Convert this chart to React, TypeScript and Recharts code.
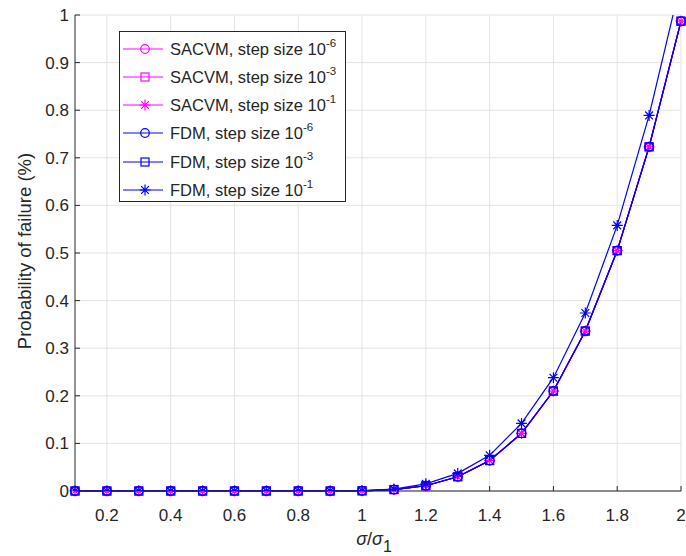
import { LineChart, Line, XAxis, YAxis, CartesianGrid, Legend } from 'recharts'

// sigma / sigma_1
const ratios = [0.1, 0.2, 0.3, 0.4, 0.5, 0.6, 0.7, 0.8, 0.9, 1.0, 1.1, 1.2, 1.3, 1.4, 1.5, 1.6, 1.7, 1.8, 1.9, 2.0]

// probability of failure (%)
const sacvm6 = [0, 0, 0, 0, 0, 0, 0, 0, 0, 0.0004, 0.003, 0.011, 0.03, 0.064, 0.121, 0.21, 0.336, 0.505, 0.723, 0.987]
const sacvm3 = [0, 0, 0, 0, 0, 0, 0, 0, 0, 0.0004, 0.003, 0.011, 0.03, 0.064, 0.121, 0.21, 0.336, 0.505, 0.723, 0.987]
const sacvm1 = [0, 0, 0, 0, 0, 0, 0, 0, 0, 0.0004, 0.003, 0.011, 0.03, 0.064, 0.121, 0.21, 0.336, 0.505, 0.723, 0.987]
const fdm6 = [0, 0, 0, 0, 0, 0, 0, 0, 0, 0.0004, 0.003, 0.011, 0.03, 0.064, 0.121, 0.21, 0.336, 0.505, 0.723, 0.987]
const fdm3 = [0, 0, 0, 0, 0, 0, 0, 0, 0, 0.0004, 0.003, 0.011, 0.03, 0.064, 0.121, 0.21, 0.336, 0.505, 0.723, 0.987]
const fdm1 = [0, 0, 0, 0, 0, 0, 0, 0, 0, 0.0006, 0.004, 0.015, 0.037, 0.075, 0.142, 0.238, 0.374, 0.558, 0.789, 1.07]

const xTicks = [0.2, 0.4, 0.6, 0.8, 1, 1.2, 1.4, 1.6, 1.8, 2]
const yTicks = [0, 0.1, 0.2, 0.3, 0.4, 0.5, 0.6, 0.7, 0.8, 0.9, 1]

const MAGENTA = '#ff00ff'
const BLUE = '#0000ff'
const INK = '#262626'
const FONT = '"Liberation Sans", Arial, Helvetica, sans-serif'

type Shape = 'circle' | 'square' | 'star'

const series: { key: string; label: string; exp: string; color: string; shape: Shape }[] = [
  { key: 'sacvm6', label: 'SACVM, step size 10', exp: '-6', color: MAGENTA, shape: 'circle' },
  { key: 'sacvm3', label: 'SACVM, step size 10', exp: '-3', color: MAGENTA, shape: 'square' },
  { key: 'sacvm1', label: 'SACVM, step size 10', exp: '-1', color: MAGENTA, shape: 'star' },
  { key: 'fdm6', label: 'FDM, step size 10', exp: '-6', color: BLUE, shape: 'circle' },
  { key: 'fdm3', label: 'FDM, step size 10', exp: '-3', color: BLUE, shape: 'square' },
  { key: 'fdm1', label: 'FDM, step size 10', exp: '-1', color: BLUE, shape: 'star' },
]

const chartData = ratios.map((r, i) => ({
  r,
  sacvm6: sacvm6[i],
  sacvm3: sacvm3[i],
  sacvm1: sacvm1[i],
  fdm6: fdm6[i],
  fdm3: fdm3[i],
  fdm1: fdm1[i],
}))

function Marker({ shape, color, x, y }: { shape: Shape; color: string; x: number; y: number }) {
  if (shape === 'circle') {
    return <circle cx={x} cy={y} r={4.3} fill="none" stroke={color} strokeWidth={1.2} />
  }
  if (shape === 'square') {
    return <rect x={x - 4} y={y - 4} width={8} height={8} fill="none" stroke={color} strokeWidth={1.2} />
  }
  const s = 5.5
  const d = s * 0.707
  return (
    <path
      d={`M${x - s},${y}H${x + s}M${x},${y - s}V${y + s}M${x - d},${y - d}L${x + d},${y + d}M${x - d},${y + d}L${x + d},${y - d}`}
      stroke={color}
      strokeWidth={1.2}
      fill="none"
    />
  )
}

const makeDot = (shape: Shape, color: string) => (props: any) => {
  const { cx, cy, index } = props
  if (cx == null || cy == null) return <g key={index} />
  return (
    <g key={index}>
      <Marker shape={shape} color={color} x={cx} y={cy} />
    </g>
  )
}

function LegendBox() {
  const rowY = [18, 46, 74, 102, 131, 159]
  return (
    <svg width={227} height={171} style={{ display: 'block' }}>
      <rect x={0.5} y={0.5} width={226} height={170} fill="#fff" stroke={INK} strokeWidth={1} />
      {series.map((s, i) => (
        <g key={s.key}>
          <line x1={4} x2={44} y1={rowY[i]} y2={rowY[i]} stroke={s.color} strokeWidth={1.2} />
          <Marker shape={s.shape} color={s.color} x={26} y={rowY[i]} />
          <text x={51} y={rowY[i] + 6} fontSize={16.5} fontFamily={FONT} fill={INK}>
            {s.label}
            <tspan dy={-8} fontSize={11.5}>{s.exp}</tspan>
          </text>
        </g>
      ))}
    </svg>
  )
}

function XLabel({ viewBox }: any) {
  const cx = viewBox ? viewBox.x + viewBox.width / 2 : 378
  const baseY = viewBox ? viewBox.y + 54 : 545
  return (
    <text x={cx - 4} y={baseY} textAnchor="middle" fontFamily={FONT} fill={INK} fontSize={18}>
      <tspan fontStyle="italic">σ</tspan>
      <tspan>/</tspan>
      <tspan fontStyle="italic">σ</tspan>
      <tspan dy={7} fontSize={16}>1</tspan>
    </text>
  )
}

function YLabel() {
  return (
    <text
      x={24}
      y={251}
      transform="rotate(-90 24 251)"
      textAnchor="middle"
      dominantBaseline="central"
      fontFamily={FONT}
      fill={INK}
      fontSize={18.5}
    >
      Probability of failure (%)
    </text>
  )
}

export default function App() {
  const tickStyle = { fontSize: 17, fontFamily: FONT, fill: INK }
  return (
    <div style={{ position: 'absolute', left: 0, top: 0, width: 686, height: 556, background: '#fff' }}>
      <LineChart width={686} height={556} data={chartData} margin={{ top: 15, right: 5, bottom: 0, left: 0 }}>
        <CartesianGrid stroke="#e3e3e3" strokeWidth={1} horizontalValues={yTicks} verticalValues={xTicks} />
        <XAxis
          dataKey="r"
          type="number"
          domain={[0.1, 2]}
          ticks={xTicks}
          tickFormatter={(v: number) => String(Math.round(v * 10) / 10)}
          tick={tickStyle}
          tickSize={-5}
          tickMargin={23}
          height={65}
          stroke={INK}
          interval={0}
          label={<XLabel />}
        />
        <XAxis
          xAxisId="top"
          orientation="top"
          dataKey="r"
          type="number"
          domain={[0.1, 2]}
          ticks={xTicks}
          tick={false}
          tickSize={-5}
          height={0}
          stroke={INK}
        />
        <YAxis
          type="number"
          domain={[0, 1]}
          ticks={yTicks}
          tickFormatter={(v: number) => String(Math.round(v * 10) / 10)}
          tick={tickStyle}
          tickSize={-5}
          tickMargin={11}
          width={75}
          stroke={INK}
          interval={0}
        />
        <YAxis
          yAxisId="clip"
          type="number"
          domain={[0, 1]}
          allowDataOverflow
          hide
        />
        <YAxis
          yAxisId="right"
          orientation="right"
          type="number"
          domain={[0, 1]}
          ticks={yTicks}
          tick={false}
          tickSize={-5}
          width={0}
          stroke={INK}
        />
        <Legend
          layout="horizontal"
          verticalAlign="middle"
          align="center"
          content={() => <LegendBox />}
          wrapperStyle={{ left: 119, top: 31, width: 227, height: 171 }}
        />
        {series.slice(0, 5).map((s) => (
          <Line
            key={s.key}
            dataKey={s.key}
            stroke={s.color}
            strokeWidth={1.2}
            dot={makeDot(s.shape, s.color)}
            activeDot={false}
            isAnimationActive={false}
          />
        ))}
        <Line
          key="fdm1"
          yAxisId="clip"
          dataKey="fdm1"
          stroke={BLUE}
          strokeWidth={1.2}
          dot={makeDot('star', BLUE)}
          activeDot={false}
          isAnimationActive={false}
        />
        <YLabel />
      </LineChart>
    </div>
  )
}
